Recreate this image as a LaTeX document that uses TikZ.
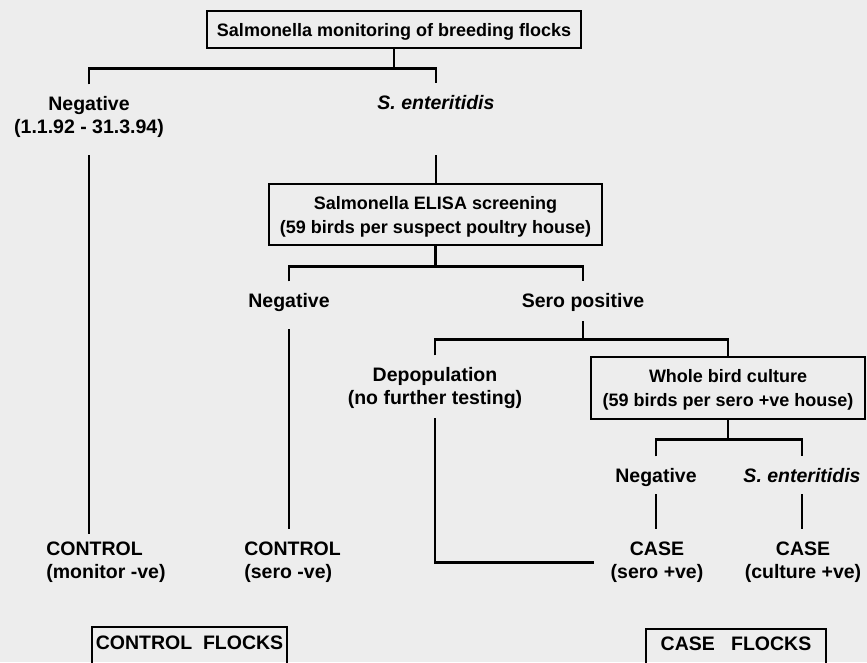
\documentclass[tikz,border=0pt]{standalone}
\usepackage{fontspec}
\setmainfont{Liberation Sans}
\usetikzlibrary{positioning}
\usetikzlibrary{calc}
\definecolor{bgcol}{RGB}{237,237,237}
\newcommand{\lblfont}{\fontsize{19.5}{23}\selectfont\bfseries}
\newcommand{\boxfont}{\fontsize{18}{24}\selectfont\bfseries}

\begin{document}
\begin{tikzpicture}[x=1pt, y=-1pt, line width=2.8pt,
    BOX/.style={rectangle, draw=black, inner sep=0pt, align=center, font=\boxfont, text depth=0pt},
    LBL/.style={inner sep=0pt, align=center, font=\lblfont, text depth=4pt},
    FLOCK/.style={BOX, font=\lblfont, text depth=6pt},
    FORK/.style={shorten <=11pt, shorten >=11pt}]

    \useasboundingbox (0,0) rectangle (867,662);
    \clip (0,0) rectangle (867,662);
    \fill[bgcol] (0,0) rectangle (867,662);

    \node[BOX, minimum width=374pt, minimum height=37pt] (top) at (394,29.5)
        {Salmonella monitoring of breeding flocks};
    \node[LBL] (negA) at (89,117.4) {Negative\\(1.1.92 - 31.3.94)};
    \node[LBL] (senA) at (436,104.9) {\textit{S. enteritidis}};

    \node[BOX, minimum width=333pt, minimum height=61pt] (elisa) at (435.5,214.5)
        {Salmonella ELISA screening\\(59 birds per suspect poultry house)};
    \node[LBL] (negB) at (289,302.9) {Negative};
    \node[LBL] (sero) at (583,302.9) {Sero positive};

    \node[LBL] (depop) at (435,388.4) {Depopulation\\(no further testing)};
    \node[BOX, minimum width=274pt, minimum height=62pt] (whole) at (728,388)
        {Whole bird culture\\(59 birds per sero +ve house)};
    \node[LBL] (negC) at (656,477.9) {Negative};
    \node[LBL] (senC) at (802,477.9) {\textit{S. enteritidis}};

    \node[LBL, anchor=west, align=left] (ctrlA) at (45,562.4) {CONTROL\\(monitor -ve)};
    \node[LBL, anchor=west, align=left] (ctrlB) at (243,562.4) {CONTROL\\(sero -ve)};
    \node[LBL] (caseA) at (657,562.4) {CASE\\(sero +ve)};
    \node[LBL] (caseB) at (803,562.4) {CASE\\(culture +ve)};

    \node[FLOCK, minimum width=195pt, minimum height=38pt] (ctrlF) at (189.5,646) {CONTROL\ \ FLOCKS};
    \node[FLOCK, minimum width=180pt, minimum height=36pt] (caseF) at (736,647) {CASE\ \ \ FLOCKS};

    \coordinate (j1) at ($(top.south)+(0,19)$);
    \coordinate (j2) at ($(elisa.south)+(0,20)$);
    \coordinate (j3) at ($(sero.south)+(0,26)$);
    \coordinate (j4) at ($(whole.south)+(0,19)$);

    \draw (top.south) -- (j1);
    \draw[FORK] (negA.north) |- (j1) -| (senA.north);
    \draw[shorten <=16pt, shorten >=7pt] (negA.south) -- (negA.south |- ctrlA.north);
    \draw[shorten <=40pt] (senA.south) -- (senA.south |- elisa.north);

    \draw (elisa.south) -- (j2);
    \draw[FORK] (negB.north) |- (j2) -| (sero.north);
    \draw[shorten <=16pt, shorten >=12pt] (negB.south) -- (negB.south |- ctrlB.north);

    \draw[shorten <=8pt] (sero.south) -- (j3);
    \draw[shorten <=11pt] (depop.north) |- (j3) -| (whole.north);
    \draw[shorten <=8pt, shorten >=15pt] (depop.south) |- (caseA.west);

    \draw (whole.south) -- (j4);
    \draw[FORK] (negC.north) |- (j4) -| (senC.north);
    \draw[shorten <=6pt, shorten >=12pt] (negC.south) -- (negC.south |- caseA.north);
    \draw[shorten <=6pt, shorten >=12pt] (senC.south) -- (senC.south |- caseB.north);
\end{tikzpicture}
\end{document}
